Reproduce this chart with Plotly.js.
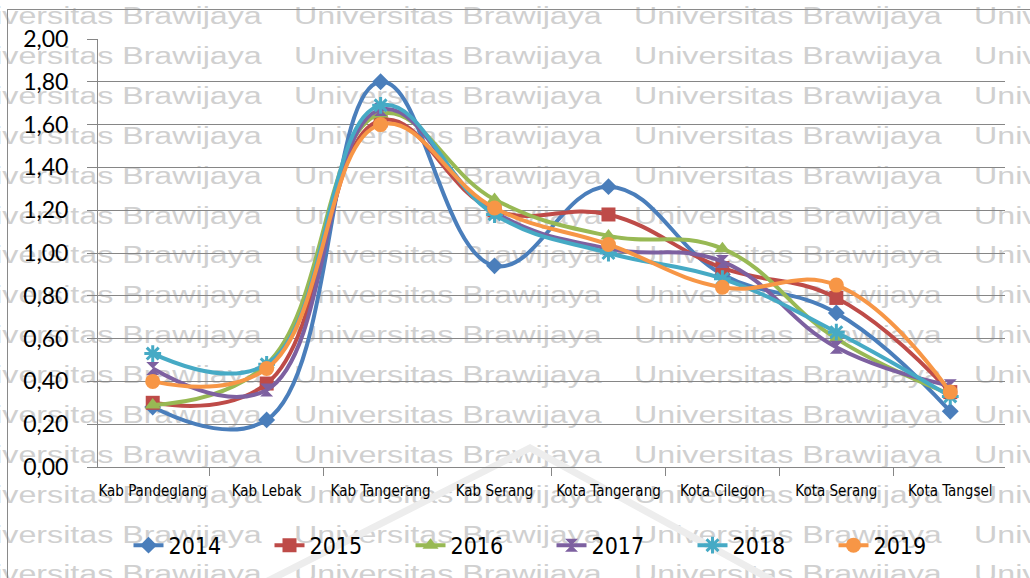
<!DOCTYPE html>
<html>
<head>
<meta charset="utf-8">
<script src="https://cdn.plot.ly/plotly-3.0.1.min.js"></script>
<style>
  html, body { margin: 0; padding: 0; background: #ffffff; }
  #wrap { position: relative; width: 1030px; height: 578px; overflow: hidden; }
  #wm { position: absolute; left: 0; top: 0; width: 1030px; height: 578px; overflow: hidden; }
  #wm span {
    position: absolute; white-space: nowrap;
    font-family: "Liberation Sans", Arial, sans-serif; font-size: 23.5px;
    color: #d0d0d0; transform: scaleX(1.37); transform-origin: 0 50%;
    line-height: 23px;
  }
  #frame { position: absolute; left: 7px; top: 9px; width: 1100px; height: 700px; border: 1px solid #8a8a8a; }
  #chart { position: absolute; left: 0; top: 0; width: 1030px; height: 578px; }
</style>
</head>
<body>
<div id="wrap">
  <div id="wm"></div>
  <div id="frame"></div>
  <div id="chart"></div>
</div>
<script>
// Regions along the x axis
const regions = ['Kab Pandeglang', 'Kab Lebak', 'Kab Tangerang', 'Kab Serang',
                 'Kota Tangerang', 'Kota Cilegon', 'Kota Serang', 'Kota Tangsel'];

// One series per year
const y2014 = [0.28, 0.22, 1.80, 0.94, 1.31, 0.90, 0.72, 0.26];
const y2015 = [0.30, 0.39, 1.62, 1.20, 1.18, 0.93, 0.79, 0.35];
const y2016 = [0.29, 0.48, 1.65, 1.25, 1.08, 1.02, 0.60, 0.34];
const y2017 = [0.46, 0.36, 1.67, 1.19, 1.02, 0.96, 0.56, 0.38];
const y2018 = [0.53, 0.48, 1.69, 1.18, 1.00, 0.88, 0.63, 0.33];
const y2019 = [0.40, 0.46, 1.60, 1.21, 1.04, 0.84, 0.85, 0.35];

const yearNames = ['2014', '2015', '2016', '2017', '2018', '2019'];
const yearValues = [y2014, y2015, y2016, y2017, y2018, y2019];

const colors = ['#4a7ebb', '#be4b48', '#98b954', '#7d60a0', '#46aac5', '#f79646'];
const symbols = ['diamond', 'square', 'triangle-up', 'hourglass', 'asterisk-open', 'circle'];
const sizes = [13, 14, 14, 13, 14, 15];

const narrow = '"DejaVu Sans Condensed", "Liberation Sans", sans-serif';

// Page watermark rows behind the chart
(function () {
  const wm = document.getElementById('wm');
  const rowTops = [5, 45, 85, 125, 165, 205, 244, 284, 324, 364, 404, 444, 484, 524, 563];
  rowTops.forEach(function (t) {
    for (let i = 0; i < 4; i++) {
      const s = document.createElement('span');
      s.textContent = 'Universitas Brawijaya';
      s.style.left = (-46 + 340 * i) + 'px';
      s.style.top = t + 'px';
      wm.appendChild(s);
    }
  });
  const ns = 'http://www.w3.org/2000/svg';
  const svg = document.createElementNS(ns, 'svg');
  svg.setAttribute('width', '1030'); svg.setAttribute('height', '578');
  svg.style.position = 'absolute'; svg.style.left = '0'; svg.style.top = '0';
  const pl = document.createElementNS(ns, 'polyline');
  pl.setAttribute('points', '250,590 530,448 790,590');
  pl.setAttribute('fill', 'none');
  pl.setAttribute('stroke', '#ededed');
  pl.setAttribute('stroke-width', '7');
  svg.appendChild(pl);
  wm.appendChild(svg);
})();

const traces = yearNames.map(function (name, i) {
  const isStar = symbols[i] === 'asterisk-open';
  return {
    type: 'scatter',
    mode: 'lines+markers',
    name: name,
    x: regions,
    y: yearValues[i],
    line: { color: colors[i], width: 4, shape: 'spline', smoothing: 1.2 },
    marker: {
      symbol: symbols[i],
      size: sizes[i],
      color: colors[i],
      line: { color: colors[i], width: isStar ? 3 : 0 }
    }
  };
});

const axisGray = '#868686';

const layout = {
  width: 1030,
  height: 578,
  margin: { l: 98, r: 25, t: 39, b: 110 },
  paper_bgcolor: 'rgba(0,0,0,0)',
  plot_bgcolor: 'rgba(0,0,0,0)',
  separators: ',.',
  showlegend: true,
  legend: {
    orientation: 'h',
    x: 0.5, xanchor: 'center',
    y: -0.18, yanchor: 'middle',
    font: { family: narrow, size: 23, color: '#000000' },
    entrywidth: 96, entrywidthmode: 'pixels',
    bgcolor: 'rgba(0,0,0,0)'
  },
  xaxis: {
    type: 'category',
    automargin: false,
    showgrid: false,
    showline: true, linecolor: axisGray, linewidth: 1,
    ticks: 'outside', tickson: 'boundaries', ticklen: 8, tickcolor: axisGray,
    tickangle: 0,
    tickfont: { family: narrow, size: 15, color: '#000000' },
    ticklabelstandoff: 10,
    zeroline: false,
    fixedrange: true
  },
  yaxis: {
    range: [0, 2],
    automargin: false,
    dtick: 0.2,
    tickformat: '.2f',
    showgrid: true, gridcolor: axisGray, gridwidth: 1,
    showline: true, linecolor: axisGray, linewidth: 1,
    ticks: 'outside', ticklen: 10, tickcolor: axisGray,
    tickfont: { family: 'Lato, "Open Sans", sans-serif', size: 23, color: '#000000' },
    ticklabelstandoff: 14,
    zeroline: false,
    fixedrange: true
  }
};

Plotly.newPlot('chart', traces, layout, { staticPlot: true, displayModeBar: false });
</script>
</body>
</html>
